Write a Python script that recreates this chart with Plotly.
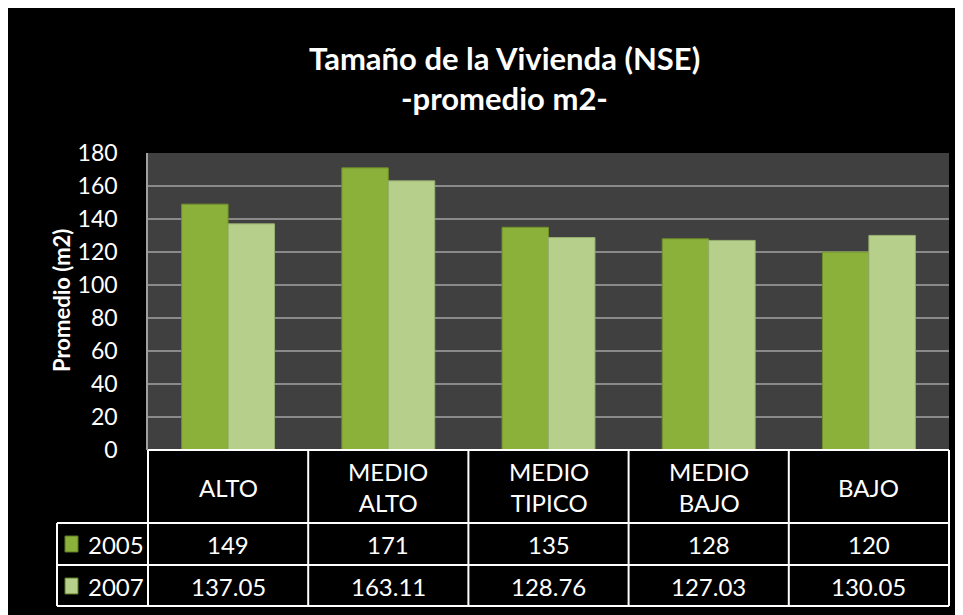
import plotly.graph_objects as go

categories = ["ALTO", "MEDIO<br>ALTO", "MEDIO<br>TIPICO", "MEDIO<br>BAJO", "BAJO"]
series_names = ["2005", "2007"]
values_2005 = [149, 171, 135, 128, 120]
values_2007 = [137.05, 163.11, 128.76, 127.03, 130.05]
y_ticks = [0, 20, 40, 60, 80, 100, 120, 140, 160, 180]

OFF = 8  # page body margin
W, H = 963, 615
L, R, T, B = 148 - OFF, W - (949 - OFF), 153 - OFF, H - (450 - OFF)
PW = W - L - R
PH = H - T - B

def px_y(p):
    return (H - B - (p - OFF)) / PH

def px_x(p):
    return (p - OFF - L) / PW

FONT = "Lato"
C2005 = "#8cb13a"
C2007 = "#b6d08c"

xs = list(range(len(categories)))
fig = go.Figure()
fig.add_trace(go.Bar(x=xs, y=values_2005, name=series_names[0],
                     marker=dict(color=C2005, line=dict(color="#6f8f2a", width=1))))
fig.add_trace(go.Bar(x=xs, y=values_2007, name=series_names[1],
                     marker=dict(color=C2007, line=dict(color="#98b070", width=1))))

shapes = []
line = dict(color="white", width=2)
# table horizontal lines
shapes.append(dict(type="line", xref="paper", yref="paper", x0=0, x1=1, y0=0, y1=0, line=line))
for yp in [523, 565, 606]:
    shapes.append(dict(type="line", xref="paper", yref="paper", x0=px_x(57), x1=1, y0=px_y(yp), y1=px_y(yp), line=line))
# table verticals
shapes.append(dict(type="line", xref="paper", yref="paper", x0=px_x(57), x1=px_x(57), y0=px_y(523), y1=px_y(606), line=line))
shapes.append(dict(type="line", xref="paper", yref="paper", x0=0, x1=0, y0=0, y1=px_y(606), line=line))
shapes.append(dict(type="line", xref="paper", yref="paper", x0=1, x1=1, y0=0, y1=px_y(606), line=line))
for i in range(len(categories) - 1):
    shapes.append(dict(type="line", xref="x", yref="paper", x0=i + 0.5, x1=i + 0.5, y0=0, y1=px_y(606), line=line))
# legend keys
for yc, col in [(544, C2005), (586, C2007)]:
    shapes.append(dict(type="rect", xref="paper", yref="paper", x0=px_x(65), x1=px_x(78),
                       y0=px_y(yc - 8), y1=px_y(yc + 8), fillcolor=col, line=dict(color="#5d7a22", width=1)))

ann = []
tsize = 31
ann.append(dict(text="<b>Tamaño de la Vivienda (NSE)</b>", xref="paper", yref="paper", x=px_x(504), y=px_y(58),
                showarrow=False, font=dict(family=FONT, size=tsize, color="white"), xanchor="center", yanchor="middle"))
ann.append(dict(text="<b>-promedio m2-</b>", xref="paper", yref="paper", x=px_x(504), y=px_y(98),
                showarrow=False, font=dict(family=FONT, size=tsize, color="white"), xanchor="center", yanchor="middle"))
ann.append(dict(text="<b>Promedio (m2)</b>", xref="paper", yref="paper", x=px_x(61), y=px_y(301), textangle=-90,
                showarrow=False, font=dict(family=FONT, size=22, color="white"), xanchor="center", yanchor="middle"))
tfont = dict(family=FONT, size=24, color="white")
for i, c in enumerate(categories):
    ann.append(dict(text=c, xref="x", yref="paper", x=i, y=px_y(487), showarrow=False, font=tfont,
                    xanchor="center", yanchor="middle"))
    ann.append(dict(text=f"{values_2005[i]:g}", xref="x", yref="paper", x=i, y=px_y(544), showarrow=False, font=tfont,
                    xanchor="center", yanchor="middle"))
    ann.append(dict(text=f"{values_2007[i]:.2f}", xref="x", yref="paper", x=i, y=px_y(586), showarrow=False, font=tfont,
                    xanchor="center", yanchor="middle"))
for yc, nm in [(544, series_names[0]), (586, series_names[1])]:
    ann.append(dict(text=nm, xref="paper", yref="paper", x=px_x(86), y=px_y(yc), showarrow=False, font=tfont,
                    xanchor="left", yanchor="middle"))

fig.update_layout(
    width=W, height=H,
    margin=dict(l=L, r=R, t=T, b=B, pad=0),
    paper_bgcolor="black", plot_bgcolor="#404040",
    barmode="group", bargap=0.42, bargroupgap=0,
    showlegend=False,
    shapes=shapes, annotations=ann,
    font=dict(family=FONT, color="white"),
    xaxis=dict(range=[-0.5, len(categories) - 0.5], showticklabels=False, showgrid=False, zeroline=False,
               ticks="", fixedrange=True),
    yaxis=dict(range=[0, 180], tickvals=y_ticks, showgrid=True, gridcolor="#8a8a8a", gridwidth=1.5,
               zeroline=False, showline=True, linecolor="#a0a0a0", linewidth=1.5,
               ticks="outside", ticklen=24, tickcolor="rgba(0,0,0,0)",
               tickfont=dict(family=FONT, size=23, color="white")),
)

fig.write_html("out.html")
